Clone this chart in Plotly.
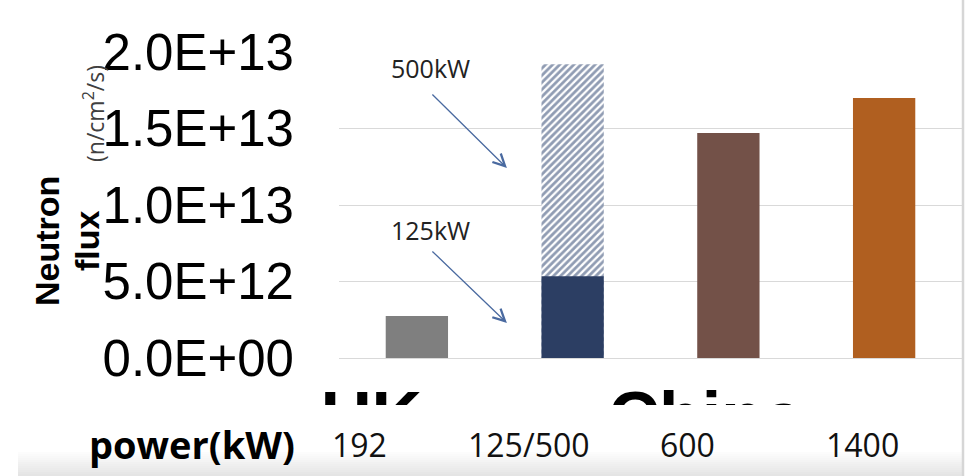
import plotly.graph_objects as go

# ---- data -------------------------------------------------------------
power_labels = ["192", "125/500", "600", "1400"]          # reactor power (kW)
flux_main = [2.75e12, 5.35e12, 1.47e13, 1.70e13]          # neutron flux (n/cm^2/s)
flux_500kw = 1.92e13                                      # 125 kW reactor upgraded to 500 kW
bar_colors = ["#7f7f7f", "#2c3e63", "#735148", "#b05f20"]
country_labels = ["UK", "China"]
y_tick_vals = [0, 5e12, 1e13, 1.5e13, 2e13]
y_tick_text = ["0.0E+00", "5.0E+12", "1.0E+13", "1.5E+13", "2.0E+13"]

# ---- page geometry ----------------------------------------------------
W, H = 974, 476
L, R, T, B = 300, 12, 52, 71
PW, PH = W - L - R, H - T - B
X0_PX = 339            # left edge of the bar area
Y0_PX = 358            # baseline of the bars
UNIT_PX = (W - R - X0_PX) / 4.0


def paper_x(px):
    return (px - L) / PW


def paper_y(py):
    return (H - B - py) / PH


x_main = list(range(len(power_labels)))
x_dom0 = paper_x(X0_PX)
y_dom0 = paper_y(Y0_PX)

# label placement (data units on the bar axis)
country_x = [-0.616, 1.230]
country_y = [0.349, 0.349]
power_x = [-0.37, 0.72, 1.74, 2.86]

fig = go.Figure()

# 500 kW value, hatched, behind the 125 kW bar
fig.add_trace(go.Bar(
    x=[x_main[1]], y=[flux_500kw], width=0.4,
    marker=dict(color="white", line=dict(width=0),
                pattern=dict(shape="/", fgcolor="#223a68", bgcolor="white",
                             size=5, solidity=0.55)),
    name="500kW", showlegend=False,
))
fig.add_trace(go.Bar(
    x=x_main, y=flux_main, width=0.4,
    marker=dict(color=bar_colors, line=dict(width=0)),
    showlegend=False,
))

# big country names, partly hidden below the axis band
fig.add_trace(go.Scatter(
    x=country_x, y=country_y, text=country_labels, mode="text",
    textposition="bottom right",
    textfont=dict(family="Liberation Sans, Arial", size=70, color="black", weight="bold"),
    xaxis="x2", yaxis="y2", cliponaxis=True, showlegend=False, hoverinfo="skip",
))

fig.update_layout(
    width=W, height=H,
    margin=dict(l=L, r=R, t=T, b=B, pad=0),
    paper_bgcolor="white", plot_bgcolor="white",
    barmode="overlay",
    xaxis=dict(domain=[x_dom0, 1], range=[-0.5, 3.5], showticklabels=False,
               showgrid=False, zeroline=False, showline=False, ticks="", anchor="y"),
    yaxis=dict(domain=[y_dom0, 1], range=[0, 2.0e13], tickvals=y_tick_vals,
               ticktext=y_tick_text, ticks="", showline=False,
               gridcolor="#d9d9d9", gridwidth=1.2, zeroline=True,
               zerolinecolor="#d9d9d9", zerolinewidth=1.2,
               tickfont=dict(family="Liberation Sans, Arial", size=51, color="black"),
               ticklabelstandoff=44, anchor="x"),
    xaxis2=dict(domain=[0, 1], range=[-0.5 - (X0_PX - L) / UNIT_PX, 3.5], visible=False,
                anchor="y2"),
    yaxis2=dict(domain=[0, y_dom0], range=[0, 1], visible=False, anchor="x2"),
)

ann = []
# y-axis title
ann.append(dict(text="<b>Neutron</b>", x=paper_x(47), y=paper_y(241), xref="paper", yref="paper",
                textangle=-90, showarrow=False, xanchor="center", yanchor="middle",
                font=dict(family="Liberation Sans, Arial", size=34, color="black")))
ann.append(dict(text="<b>flux</b>", x=paper_x(87), y=paper_y(241), xref="paper", yref="paper",
                textangle=-90, showarrow=False, xanchor="center", yanchor="middle",
                font=dict(family="Liberation Sans, Arial", size=34, color="black")))
ann.append(dict(text="(n/cm<sup>2</sup>/s)", x=paper_x(94), y=paper_y(114), xref="paper",
                yref="paper", textangle=-90, showarrow=False, xanchor="center",
                yanchor="middle",
                font=dict(family="Open Sans", size=23, color="#404040")))

# callouts for the two power levels of the same reactor
for label, ty, tail, head in [("500kW", 1.895e13, (0.09, 1.732e13), (0.578, 1.242e13)),
                              ("125kW", 8.37e12, (0.09, 7.06e12), (0.578, 2.29e12))]:
    ann.append(dict(text=label, x=0.09, y=ty, xref="x", yref="y", showarrow=False,
                    xanchor="center", yanchor="middle",
                    font=dict(family="Open Sans", size=25, color="#222222")))
    ann.append(dict(text="", x=head[0], y=head[1], ax=tail[0], ay=tail[1], xref="x", yref="y",
                    axref="x", ayref="y", showarrow=True, arrowhead=5, arrowsize=1.8,
                    arrowwidth=1.3, arrowcolor="#4a6aa0", standoff=0, startstandoff=0))

# power row
ann.append(dict(text="<b>power(kW)</b>", x=paper_x(87), y=paper_y(444), xref="paper",
                yref="paper", showarrow=False, xanchor="left", yanchor="middle",
                font=dict(family="Open Sans", size=38, color="black")))
for px, lbl in zip(power_x, power_labels):
    ann.append(dict(text=lbl, x=px, y=paper_y(444), xref="x", yref="paper", showarrow=False,
                    xanchor="center", yanchor="middle",
                    font=dict(family="Open Sans", size=32, color="#111111")))
fig.update_layout(annotations=ann)

shapes = []
# soft shadow along the bottom edge
n_strips = 12
for i in range(n_strips):
    top = 452 + i * 2
    g = int(255 - (i + 1) * 2.2)
    shapes.append(dict(type="rect", xref="paper", yref="paper",
                       x0=paper_x(18), x1=paper_x(962), y0=paper_y(top + 2), y1=paper_y(top),
                       fillcolor=f"rgb({g},{g},{g})", line=dict(width=0), layer="below"))
# right border
shapes.append(dict(type="line", xref="paper", yref="paper", x0=paper_x(963), x1=paper_x(963),
                   y0=paper_y(0), y1=paper_y(H), line=dict(color="#d6d6d6", width=2.5)))
fig.update_layout(shapes=shapes)

fig.write_html("out.html")
